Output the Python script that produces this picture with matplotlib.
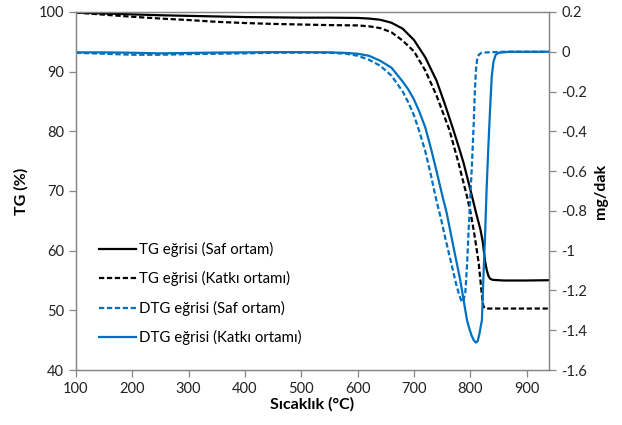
import matplotlib.pyplot as plt
import numpy as np

plt.rcParams['font.family'] = ['Lato', 'DejaVu Sans']
plt.rcParams['lines.scale_dashes'] = False

# TG curves (%)
tg_saf_t = [100,150,200,250,300,350,400,450,500,550,600,620,640,660,680,700,720,740,755,770,780,788,795,803,810,818,822,826,829,832,835,840,860,900,940]
tg_saf = [99.9,99.75,99.6,99.45,99.35,99.25,99.15,99.1,99.05,99.05,99.0,98.9,98.7,98.2,97.2,95.3,92.4,88.5,84.5,80.2,77.2,74.7,72.1,69.1,66.4,63.5,61.5,58.3,56.8,55.8,55.3,55.1,55.0,55.0,55.05]
tg_katki_t = [100,150,200,250,300,350,400,450,500,550,600,620,640,660,680,700,720,740,763,779,794,800,806,810,815,820,823,826,830,860,900,940]
tg_katki = [99.9,99.55,99.2,98.9,98.65,98.35,98.15,98.0,97.9,97.8,97.75,97.6,97.3,96.6,95.2,93.4,90.2,86.0,80.2,74.7,69.1,66.6,63.4,61.0,57.8,53.0,50.7,50.35,50.3,50.3,50.3,50.3]

# DTG curves (mg/dak)
dtg_saf_t = [100,150,200,250,300,350,400,450,500,550,580,600,620,640,660,680,690,700,710,720,730,740,748,755,765,775,780,784,786,788,791,794,797,800,803,806,808,810,812,815,820,830,860,900,940]
dtg_saf = [-0.005,-0.01,-0.015,-0.015,-0.012,-0.01,-0.008,-0.005,-0.004,-0.005,-0.01,-0.02,-0.04,-0.07,-0.12,-0.2,-0.255,-0.32,-0.405,-0.5,-0.62,-0.75,-0.84,-0.93,-1.05,-1.17,-1.22,-1.252,-1.258,-1.245,-1.214,-1.08,-0.895,-0.73,-0.56,-0.36,-0.2,-0.09,-0.04,-0.015,-0.005,-0.003,0.0,0.0,0.0]
dtg_katki_t = [100,150,200,250,300,350,400,450,500,550,580,600,620,640,660,680,690,700,710,720,730,740,750,758,770,782,794,798,802,806,810,813,816,820.6,823,826.5,829,832,835,838,841,845,850,870,900,940]
dtg_katki = [-0.003,-0.003,-0.005,-0.008,-0.006,-0.004,-0.003,-0.002,-0.002,-0.003,-0.006,-0.01,-0.02,-0.045,-0.08,-0.15,-0.19,-0.24,-0.305,-0.38,-0.485,-0.6,-0.72,-0.81,-0.98,-1.147,-1.348,-1.39,-1.425,-1.45,-1.462,-1.455,-1.42,-1.348,-1.15,-0.895,-0.68,-0.477,-0.29,-0.125,-0.05,-0.015,-0.005,0.0,0.0,0.0]

blue = '#0070C0'
gray = '#868686'
dash = (3.8, 1.9)

fig = plt.figure(figsize=(6.22, 4.25), dpi=100)
ax = fig.add_axes([0.122, 0.1294, 0.761, 0.8424])
ax2 = ax.twinx()

l1, = ax.plot(tg_saf_t, tg_saf, color='black', lw=1.6, label='TG eğrisi (Saf ortam)')
l2, = ax.plot(tg_katki_t, tg_katki, color='black', lw=1.6, dashes=dash, label='TG eğrisi (Katkı ortamı)')
l3, = ax2.plot(dtg_saf_t, dtg_saf, color=blue, lw=1.6, dashes=dash, label='DTG eğrisi (Saf ortam)')
l4, = ax2.plot(dtg_katki_t, dtg_katki, color=blue, lw=1.6, label='DTG eğrisi (Katkı ortamı)')

ax.set_xlim(100, 940)
ax.set_ylim(40, 100)
ax2.set_ylim(-1.6, 0.2)
ax.set_xticks(np.arange(100, 901, 100))
ax.set_yticks(np.arange(40, 101, 10))
ax2.set_yticks(np.round(np.arange(-1.6, 0.21, 0.2), 1))
ax2.set_yticklabels(['-1.6','-1.4','-1.2','-1','-0.8','-0.6','-0.4','-0.2','0','0.2'])

for a in (ax, ax2):
    for s in a.spines.values():
        s.set_color(gray)
        s.set_linewidth(0.9)
    a.tick_params(colors=gray, labelcolor='#222222', labelsize=10.5, length=5, width=0.9)

ax.set_xlabel('Sıcaklık (°C)', fontsize=11.5, fontweight='bold', labelpad=1)
ax.set_ylabel('TG (%)', fontsize=11.5, fontweight='bold', labelpad=7)
ax2.set_ylabel('mg/dak', fontsize=11.5, fontweight='bold', labelpad=5)

ax2.legend(handles=[l1, l2, l3, l4], loc='upper left', bbox_to_anchor=(0.02, 0.395),
           frameon=False, fontsize=10.8, handlelength=2.5, handletextpad=0.2, labelspacing=0.95)

fig.savefig('out.png', dpi=100)
